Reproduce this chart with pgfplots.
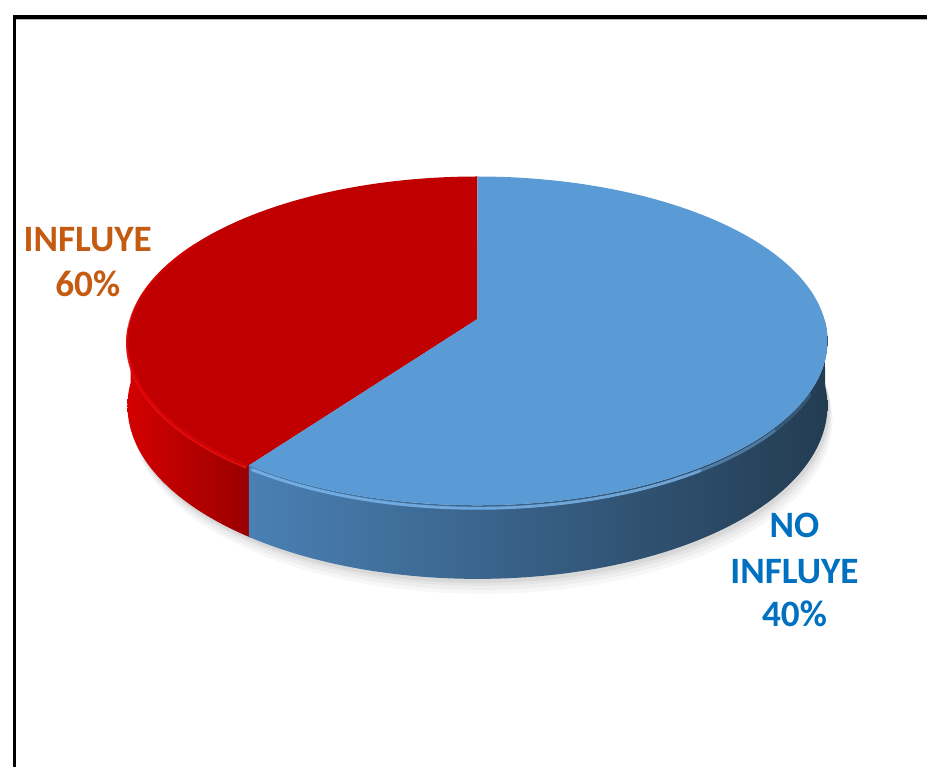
\documentclass[border=0pt]{standalone}
\usepackage{pgfplots}
\pgfplotsset{compat=1.18}
\usepackage{pgfplotstable}
\usepackage{fontspec}
\setmainfont{Carlito}

\definecolor{redtop}{RGB}{192,0,0}
\definecolor{redsideL}{RGB}{212,0,0}
\definecolor{redsideR}{RGB}{150,0,0}
\definecolor{bluetop}{RGB}{91,155,213}
\definecolor{bluesideL}{RGB}{74,128,180}
\definecolor{bluesideM}{RGB}{54,96,138}
\definecolor{bluesideR}{RGB}{35,60,82}
\definecolor{lblorange}{RGB}{197,90,17}
\definecolor{lblblue}{RGB}{0,112,192}

% slice values (percent of the full circle), first slice starts at 12 o'clock going counter-clockwise
\pgfplotstableread{
slice value
red   40
blue  60
}\piedata

\begin{document}
\pgfplotstablegetelem{0}{value}\of\piedata
\pgfmathsetmacro\aEnd{90+3.6*\pgfplotsretval}
\begin{tikzpicture}[
  declare function={
    px(\t)=476+348*cos(\t)/(1+0.1333*sin(\t));
    py(\t)=320-162*sin(\t)/(1+0.1333*sin(\t));
    pb(\t)=py(\t)+64/(1+0.1333*sin(\t));
    % closed outline of a side band between angles a and b, parameter u in [0,2]
    tt(\u,\a,\b)=(\u<=1)*(\a+(\b-\a)*\u)+(\u>1)*(\b-(\b-\a)*(\u-1));
    sx(\u,\a,\b)=px(tt(\u,\a,\b));
    sy(\u,\a,\b)=(\u<=1)*py(tt(\u,\a,\b))+(\u>1)*pb(tt(\u,\a,\b));
  }]
\begin{axis}[
  width=695.25pt, height=576.75pt, scale only axis,
  xmin=0, xmax=927, ymin=0, ymax=769, y dir=reverse,
  hide axis, samples=161]
\fill[white] (rel axis cs:0,0) rectangle (rel axis cs:1,1);

% soft shadow under the pie
\addplot[draw=none, fill=black, fill opacity=0.03, domain=0:360] ({px(x)+5},{pb(x)+15});
\addplot[draw=none, fill=black, fill opacity=0.035, domain=0:360] ({px(x)+4},{pb(x)+11});
\addplot[draw=none, fill=black, fill opacity=0.04, domain=0:360] ({px(x)+3},{pb(x)+7});
\addplot[draw=none, fill=black, fill opacity=0.05, domain=0:360] ({px(x)+2},{pb(x)+4});

% sides (front half)
\addplot[draw=none, left color=redsideL, right color=redsideR, domain=0:2, samples=201]
  ({sx(x,180,\aEnd+1)},{sy(x,180,\aEnd+1)}) -- cycle;
\addplot[draw=none, left color=bluesideL, middle color=bluesideM, right color=bluesideR, domain=0:2, samples=201]
  ({sx(x,\aEnd,360)},{sy(x,\aEnd,360)}) -- cycle;

% bevel highlights along the top edge of the sides
\addplot[draw={rgb,255:red,235;green,20;blue,20}, line width=2.2pt, opacity=0.8, domain=182:\aEnd-0.5] ({px(x)},{py(x)+3});
\addplot[draw={rgb,255:red,125;green,185;blue,240}, line width=2.2pt, opacity=0.8, domain=\aEnd+0.5:305] ({px(x)},{py(x)+3});
\addplot[draw={rgb,255:red,125;green,185;blue,240}, line width=2.2pt, opacity=0.45, domain=305:322] ({px(x)},{py(x)+3});
\addplot[draw={rgb,255:red,125;green,185;blue,240}, line width=2.2pt, opacity=0.2, domain=322:335] ({px(x)},{py(x)+3});

% top faces
\addplot[draw=none, fill=redtop, domain=90:\aEnd] ({px(x)},{py(x)}) -- (axis cs:476,320) -- cycle;
\addplot[draw=none, fill=bluetop, domain=\aEnd:450] ({px(x)},{py(x)}) -- (axis cs:476,320) -- cycle;
\addplot[draw={rgb,255:red,214;green,0;blue,0}, line width=2pt, opacity=0.7, domain=150:\aEnd-1] ({px(x)},{py(x)+1.5});

% labels
\node[font=\bfseries\fontsize{28}{32}\selectfont, text=lblorange, anchor=base] at (axis cs:85,252) {INFLUYE};
\node[font=\bfseries\fontsize{28}{32}\selectfont, text=lblorange, anchor=base] at (axis cs:85,297) {60\%};
\node[font=\bfseries\fontsize{28}{32}\selectfont, text=lblblue, anchor=base] at (axis cs:794,539) {NO};
\node[font=\bfseries\fontsize{28}{32}\selectfont, text=lblblue, anchor=base] at (axis cs:794,585) {INFLUYE};
\node[font=\bfseries\fontsize{28}{32}\selectfont, text=lblblue, anchor=base] at (axis cs:794,629) {40\%};

% frame (cropped)
\draw[gray!60, line width=1pt] (axis cs:13,19.5) -- (axis cs:927,19.5);
\draw[black, line width=2.6pt] (axis cs:10,17) -- (axis cs:927,17);
\draw[black, line width=2.6pt] (axis cs:11.8,15.3) -- (axis cs:11.8,769);
\end{axis}
\end{tikzpicture}
\end{document}
